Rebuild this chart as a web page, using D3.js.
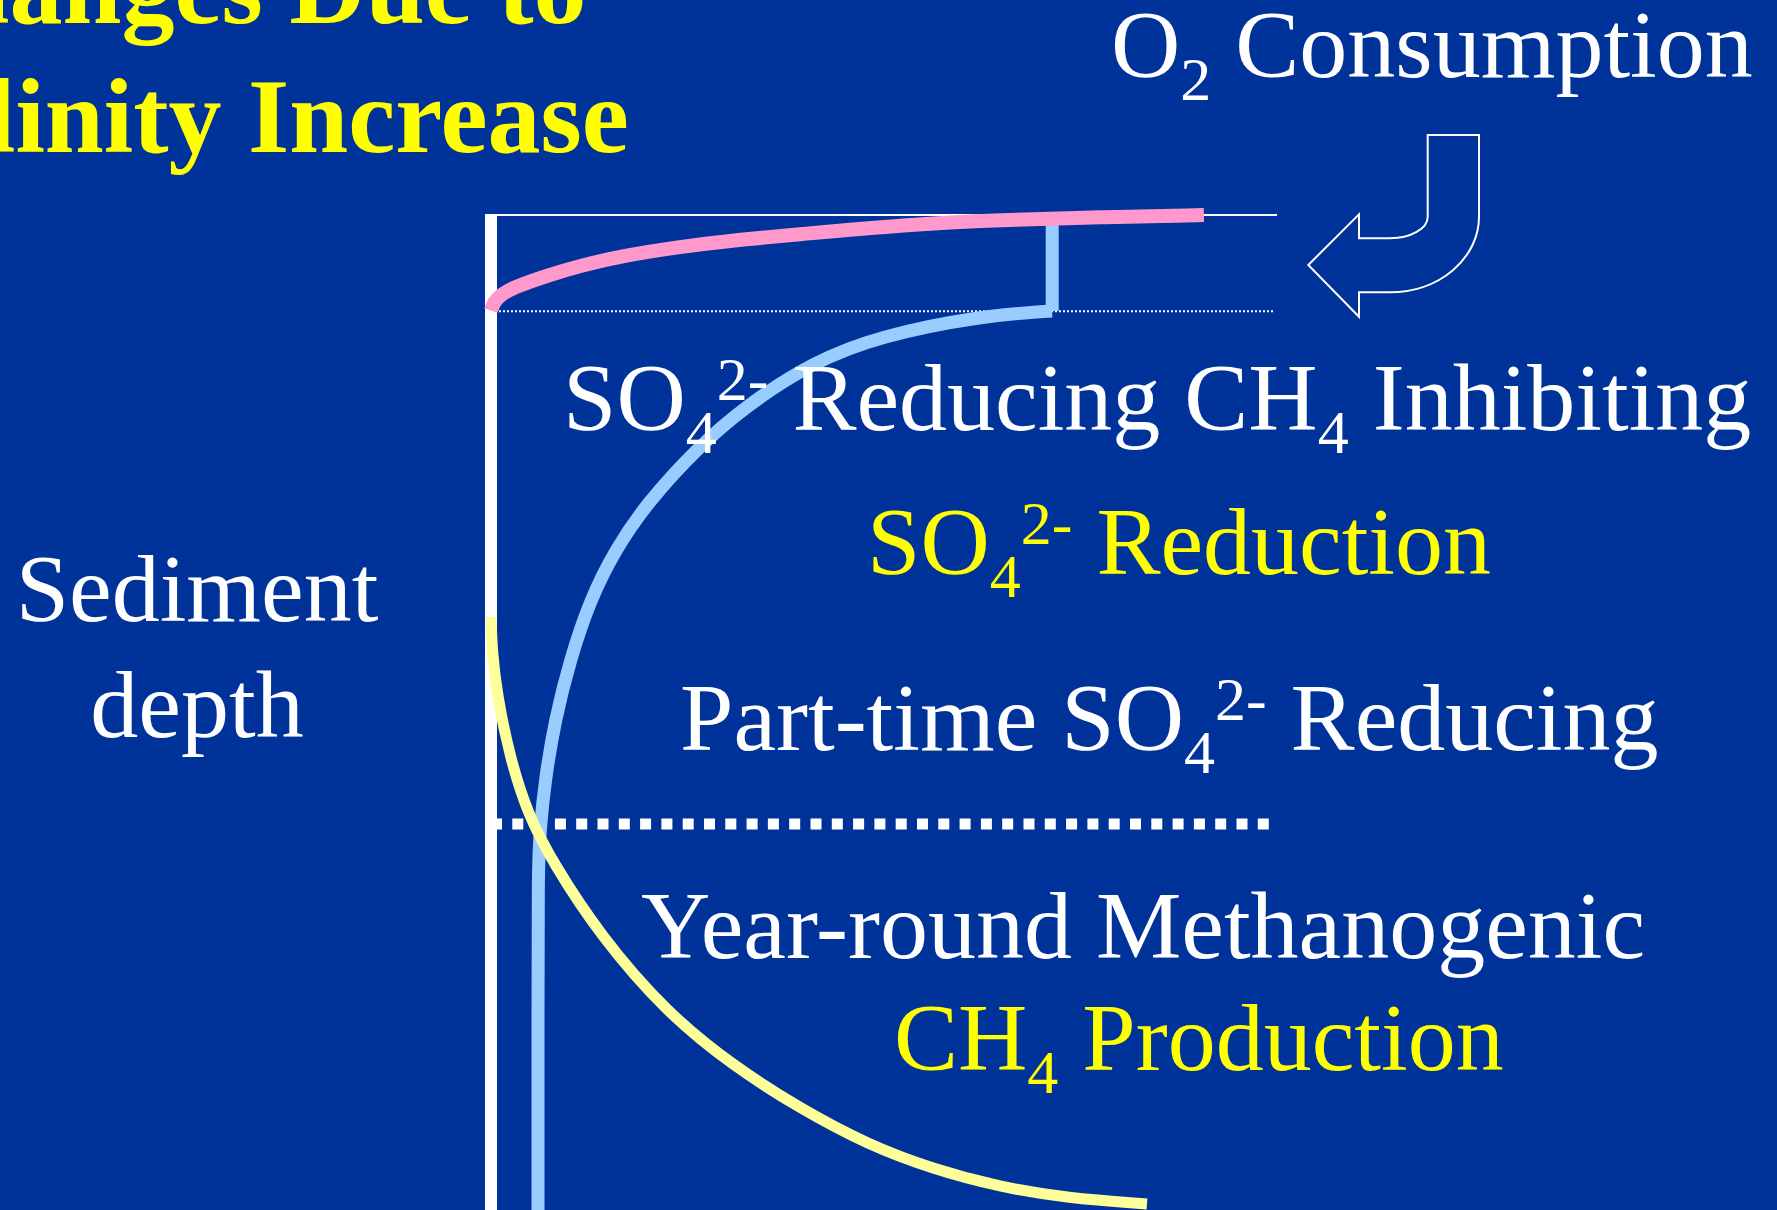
<!DOCTYPE html>
<html>
<head>
<meta charset="utf-8">
<script src="https://cdn.jsdelivr.net/npm/d3@7"></script>
<style>
  html, body { margin: 0; padding: 0; background: #003399; overflow: hidden; }
  svg { display: block; }
  text { white-space: pre; font-family: "Liberation Serif", "Times New Roman", serif; }
</style>
</head>
<body>
<script>
// relative concentration (0-100) against relative sediment depth (0-100)
const o2Conc   = [0, 0.4, 1.3, 2.8, 7.1, 11.3, 16.8, 24.0, 31.3, 38.4, 52.9, 64.8, 77.5, 90.7]
const o2Depth  = [9.6, 8.7, 8.0, 7.3, 6.1, 5.1, 4.1, 3.2, 2.5, 2.0, 0.95, 0.5, 0.23, 0]

// sulfate: short vertical piece near the surface, then the main profile
const so4TopConc  = [71.4, 71.4]
const so4TopDepth = [0.3, 9.65]
const so4Conc  = [71.37, 62.21, 49.49, 40.97, 32.57, 26.21, 19.85, 15.78, 12.6, 10.05, 8.14, 6.87, 6.23, 5.98, 5.98, 5.98]
const so4Depth = [9.65, 10.15, 12.16, 14.77, 19.1, 23.42, 28.94, 33.67, 38.69, 44.72, 50.75, 56.78, 61.81, 65.83, 80, 100]

const ch4Conc  = [0, 0.13, 0.76, 2.42, 4.71, 7.89, 13.87, 22.39, 30.79, 39.31, 47.84, 56.23, 64.76, 73.28, 83.46]
const ch4Depth = [40.4, 43.7, 48.2, 54.6, 60.3, 65.1, 72.4, 80.2, 85.5, 89.8, 93.4, 95.9, 97.7, 98.8, 99.4]

// zone boundaries (depth): bottom of oxic layer, top of year-round methanogenic layer
const boundaryDepths = [9.67, 61.2]

// text ("_" = subscript, "^" = superscript)
const titleLines = ['Changes Due to', 'Salinity Increase']
const axisLabel = ['Sediment', 'depth']
const o2Label = ['O', '_2', ' Consumption']
const zoneLabels = [
    ['SO', '_4', '^2-', ' Reducing CH', '_4', ' Inhibiting'],
    ['SO', '_4', '^2-', ' Reduction'],
    ['Part-time SO', '_4', '^2-', ' Reducing'],
    ['Year-round Methanogenic'],
    ['CH', '_4', ' Production']
]

const W = 1777
const H = 1210
const BG = '#003399'
const WHITE = '#ffffff'
const YELLOW = '#ffff00'

const svg = d3.select('body').append('svg')
    .attr('width', W)
    .attr('height', H)

svg.append('rect')
    .attr('width', W)
    .attr('height', H)
    .attr('fill', BG)

const x = d3.scaleLinear().domain([0, 100]).range([491, 1277])
const y = d3.scaleLinear().domain([0, 100]).range([215, 1210])

// smooth profile curves
const line = d3.line()
    .x(d => x(d[0]))
    .y(d => y(d[1]))
    .curve(d3.curveBasis)

// depth axis (thick white) and surface line
svg.append('line')
    .attr('x1', x(0)).attr('x2', x(0))
    .attr('y1', y(0) - 1).attr('y2', y(100))
    .attr('stroke', WHITE)
    .attr('stroke-width', 12)

svg.append('line')
    .attr('x1', x(0)).attr('x2', x(100))
    .attr('y1', y(0)).attr('y2', y(0))
    .attr('stroke', WHITE)
    .attr('stroke-width', 2)

// boundaries
svg.append('line')
    .attr('x1', x(0)).attr('x2', x(99.5))
    .attr('y1', y(boundaryDepths[0])).attr('y2', y(boundaryDepths[0]))
    .attr('stroke', WHITE)
    .attr('stroke-width', 2)
    .attr('stroke-dasharray', '2 2')

svg.append('line')
    .attr('x1', x(0)).attr('x2', x(99.4))
    .attr('y1', y(boundaryDepths[1])).attr('y2', y(boundaryDepths[1]))
    .attr('stroke', WHITE)
    .attr('stroke-width', 11)
    .attr('stroke-dasharray', '11 10.3')

// profiles
svg.append('path')
    .attr('d', d3.line().x(d => x(d[0])).y(d => y(d[1]))(d3.zip(so4TopConc, so4TopDepth)))
    .attr('fill', 'none')
    .attr('stroke', '#99ccff')
    .attr('stroke-width', 13)

svg.append('path')
    .attr('d', line(d3.zip(so4Conc, so4Depth)))
    .attr('fill', 'none')
    .attr('stroke', '#99ccff')
    .attr('stroke-width', 13)

svg.append('path')
    .attr('d', line(d3.zip(ch4Conc, ch4Depth)))
    .attr('fill', 'none')
    .attr('stroke', '#ffff99')
    .attr('stroke-width', 11)

svg.append('path')
    .attr('d', line(d3.zip(o2Conc, o2Depth)))
    .attr('fill', 'none')
    .attr('stroke', '#ff99cc')
    .attr('stroke-width', 14)

// curved arrow outline pointing back at the surface
const ax = 1390, ay = 216.7
const arrowD = `M${ax + 37.7},135 L${ax + 89},135 L${ax + 89},${ay} ` +
    `A89,75.6 0 0 1 ${ax},${ay + 75.6} L${ax - 31},${ay + 75.6} L${ax - 31},${ay + 100} ` +
    `L${ax - 81.7},${ay + 48.3} L${ax - 31},${ay - 2.4} L${ax - 31},${ay + 21.6} ` +
    `L${ax},${ay + 21.6} A37.7,21.6 0 0 0 ${ax + 37.7},${ay} Z`
svg.append('path')
    .attr('d', arrowD)
    .attr('fill', 'none')
    .attr('stroke', WHITE)
    .attr('stroke-width', 2)

// text with sub/superscripts
function richText(segs, px, py, color, size) {
    const t = svg.append('text')
        .attr('x', px)
        .attr('y', py)
        .attr('fill', color)
        .attr('font-size', size)
    let shift = 0
    segs.forEach(s => {
        const isSub = s[0] === '_'
        const isSup = s[0] === '^'
        const target = isSub ? 23 : isSup ? -30 : 0
        t.append('tspan')
            .attr('dy', target - shift)
            .attr('font-size', isSub || isSup ? 62 : null)
            .text(isSub || isSup ? s.slice(1) : s)
        shift = target
    })
    return t
}

// title (runs off the left edge, as on the slide)
titleLines.forEach((s, i) => {
    svg.append('text')
        .attr('x', -126)
        .attr('y', 23 + i * 129)
        .attr('fill', YELLOW)
        .attr('font-size', 106)
        .attr('font-weight', 'bold')
        .text(s)
})

axisLabel.forEach((s, i) => {
    svg.append('text')
        .attr('x', 197)
        .attr('y', 621 + i * 116)
        .attr('text-anchor', 'middle')
        .attr('fill', WHITE)
        .attr('font-size', 96)
        .text(s)
})

richText(o2Label, 1111, 77, WHITE, 96)

const labelPos = [
    [563, 430, WHITE],
    [867, 574, YELLOW],
    [680, 750, WHITE],
    [641, 958, WHITE],
    [894, 1070, YELLOW]
]
zoneLabels.forEach((segs, i) => {
    const p = labelPos[i]
    richText(segs, p[0], p[1], p[2], 96)
})
</script>
</body>
</html>
